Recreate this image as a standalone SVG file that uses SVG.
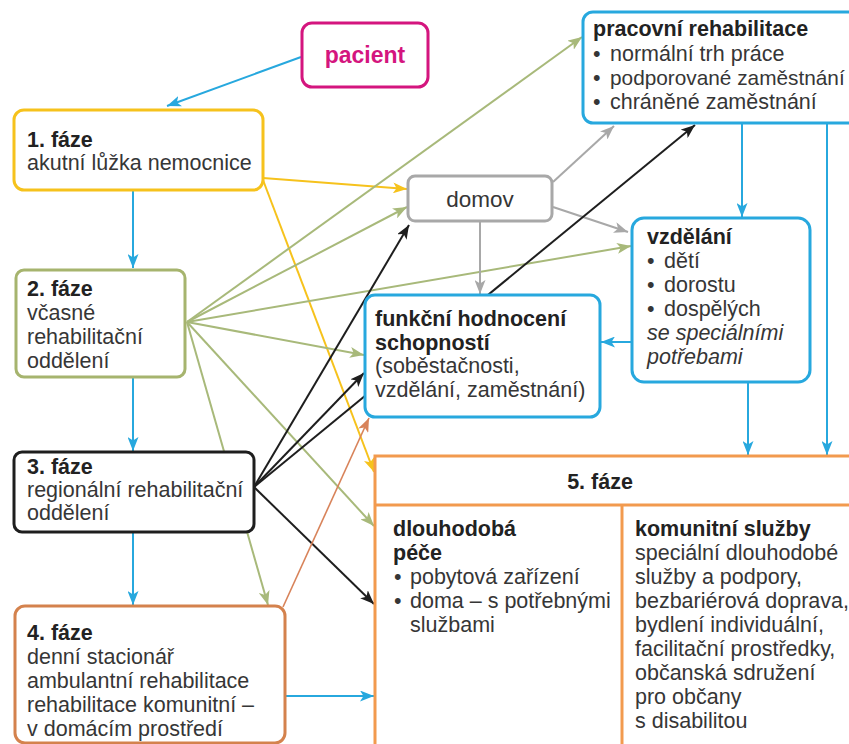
<svg xmlns="http://www.w3.org/2000/svg" width="849" height="744" viewBox="0 0 849 744">
  <style>
    text { font-family: "Liberation Sans", Arial, sans-serif; font-size: 21.5px; fill: #363636; }
    .b { font-weight: bold; fill: #222; }
    .i { font-style: italic; }
    .box { fill: #fff; stroke-width: 3; }
    .c { fill: none; stroke-width: 2; }
    .blue { stroke: #27a8de; }
    .yel { stroke: #f6c21c; }
    .grn { stroke: #a8b97a; }
    .gry { stroke: #a8a8a8; }
    .blk { stroke: #1e1e1e; }
    .org { stroke: #d8835a; stroke-width: 1.6; }
  </style>
  <defs>
    <marker id="ah-blue" viewBox="0 0 14 11" refX="14" refY="5.5" markerWidth="14" markerHeight="11" markerUnits="userSpaceOnUse" orient="auto">
      <path d="M0,0 L14,5.5 L0,11 L3.5,5.5 z" fill="#27a8de"/>
    </marker>
    <marker id="ah-yel" viewBox="0 0 14 11" refX="14" refY="5.5" markerWidth="14" markerHeight="11" markerUnits="userSpaceOnUse" orient="auto">
      <path d="M0,0 L14,5.5 L0,11 L3.5,5.5 z" fill="#f6c21c"/>
    </marker>
    <marker id="ah-grn" viewBox="0 0 14 11" refX="14" refY="5.5" markerWidth="14" markerHeight="11" markerUnits="userSpaceOnUse" orient="auto">
      <path d="M0,0 L14,5.5 L0,11 L3.5,5.5 z" fill="#a8b97a"/>
    </marker>
    <marker id="ah-gry" viewBox="0 0 14 11" refX="14" refY="5.5" markerWidth="14" markerHeight="11" markerUnits="userSpaceOnUse" orient="auto">
      <path d="M0,0 L14,5.5 L0,11 L3.5,5.5 z" fill="#a8a8a8"/>
    </marker>
    <marker id="ah-blk" viewBox="0 0 14 11" refX="14" refY="5.5" markerWidth="14" markerHeight="11" markerUnits="userSpaceOnUse" orient="auto">
      <path d="M0,0 L14,5.5 L0,11 L3.5,5.5 z" fill="#1e1e1e"/>
    </marker>
    <marker id="ah-org" viewBox="0 0 14 11" refX="14" refY="5.5" markerWidth="14" markerHeight="11" markerUnits="userSpaceOnUse" orient="auto">
      <path d="M0,0 L14,5.5 L0,11 L3.5,5.5 z" fill="#d8835a"/>
    </marker>
  </defs>

  <rect width="849" height="744" fill="#fff"/>

  <!-- connectors (drawn first so the boxes hide the parts that run behind them) -->
  <g id="connectors">
    <!-- main flow, blue -->
    <line class="c blue" x1="301" y1="57" x2="167" y2="106" marker-end="url(#ah-blue)"/>
    <line class="c blue" x1="133" y1="191" x2="133" y2="268" marker-end="url(#ah-blue)"/>
    <line class="c blue" x1="133" y1="377" x2="133" y2="451" marker-end="url(#ah-blue)"/>
    <line class="c blue" x1="133" y1="533" x2="133" y2="605" marker-end="url(#ah-blue)"/>
    <line class="c blue" x1="286" y1="696" x2="374" y2="696" marker-end="url(#ah-blue)"/>
    <line class="c blue" x1="742" y1="124" x2="742" y2="217" marker-end="url(#ah-blue)"/>
    <line class="c blue" x1="827" y1="124" x2="827" y2="455" marker-end="url(#ah-blue)"/>
    <line class="c blue" x1="748" y1="383" x2="748" y2="455" marker-end="url(#ah-blue)"/>
    <line class="c blue" x1="632" y1="342" x2="601" y2="342" marker-end="url(#ah-blue)"/>

    <!-- from phase 1, yellow -->
    <line class="c yel" x1="263" y1="178" x2="407" y2="189" marker-end="url(#ah-yel)"/>
    <line class="c yel" x1="263" y1="180" x2="374" y2="472" marker-end="url(#ah-yel)"/>

    <!-- from phase 2, green -->
    <line class="c grn" x1="187" y1="322" x2="582" y2="37" marker-end="url(#ah-grn)"/>
    <line class="c grn" x1="187" y1="322" x2="407" y2="207" marker-end="url(#ah-grn)"/>
    <line class="c grn" x1="187" y1="322" x2="631" y2="246" marker-end="url(#ah-grn)"/>
    <line class="c grn" x1="187" y1="322" x2="364" y2="355" marker-end="url(#ah-grn)"/>
    <line class="c grn" x1="187" y1="322" x2="374" y2="526" marker-end="url(#ah-grn)"/>
    <line class="c grn" x1="187" y1="322" x2="268" y2="605" marker-end="url(#ah-grn)"/>

    <!-- from home, grey -->
    <line class="c gry" x1="553" y1="182" x2="614" y2="126" marker-end="url(#ah-gry)"/>
    <line class="c gry" x1="553" y1="207" x2="628" y2="232" marker-end="url(#ah-gry)"/>
    <line class="c gry" x1="480" y1="222" x2="480" y2="294" marker-end="url(#ah-gry)"/>

    <!-- from phase 3, black -->
    <line class="c blk" x1="254" y1="487" x2="409" y2="225" marker-end="url(#ah-blk)"/>
    <line class="c blk" x1="254" y1="487" x2="364" y2="373" marker-end="url(#ah-blk)"/>
    <line class="c blk" x1="254" y1="487" x2="695" y2="125" marker-end="url(#ah-blk)"/>
    <line class="c blk" x1="254" y1="487" x2="374" y2="604" marker-end="url(#ah-blk)"/>

    <!-- from phase 4, orange -->
    <line class="c org" x1="283" y1="607" x2="369" y2="418" marker-end="url(#ah-org)"/>
  </g>

  <g id="pacient">
    <rect class="box" x="302" y="23" width="126" height="64" rx="10" stroke="#d4157e"/>
    <text x="365" y="63" text-anchor="middle" style="font-weight:bold;font-size:23px;fill:#d4157e">pacient</text>
  </g>

  <g id="faze1">
    <rect class="box" x="14" y="110" width="249" height="80" rx="10" stroke="#f6c21c"/>
    <text class="b" x="27" y="147">1. fáze</text>
    <text x="27" y="170">akutní lůžka nemocnice</text>
  </g>

  <g id="faze2">
    <rect class="box" x="16" y="270" width="169" height="107" rx="8" stroke="#a6b46e"/>
    <text class="b" x="27" y="296">2. fáze</text>
    <text x="27" y="320">včasné</text>
    <text x="27" y="344">rehabilitační</text>
    <text x="27" y="368">oddělení</text>
  </g>

  <g id="faze3">
    <rect class="box" x="14" y="452" width="240" height="80" rx="8" stroke="#1e1e1e"/>
    <text class="b" x="27" y="474">3. fáze</text>
    <text x="27" y="497">regionální rehabilitační</text>
    <text x="27" y="520">oddělení</text>
  </g>

  <g id="faze4">
    <rect class="box" x="15" y="606" width="270" height="137" rx="10" stroke="#d4824d"/>
    <text class="b" x="27" y="640">4. fáze</text>
    <text x="27" y="664">denní stacionář</text>
    <text x="27" y="688">ambulantní rehabilitace</text>
    <text x="27" y="712">rehabilitace komunitní –</text>
    <text x="27" y="736">v domácím prostředí</text>
  </g>

  <g id="domov">
    <rect class="box" x="408" y="176" width="144" height="45" rx="7" stroke="#a8a8a8"/>
    <text x="480" y="207" text-anchor="middle" style="font-size:22.5px">domov</text>
  </g>

  <g id="pracovni-rehabilitace">
    <rect class="box" x="583" y="12" width="275" height="111" rx="10" stroke="#27a8de"/>
    <text class="b" x="593" y="36">pracovní rehabilitace</text>
    <text x="593" y="61">•<tspan x="610">normální trh práce</tspan></text>
    <text x="593" y="85">•<tspan x="610" style="font-size:20.8px">podporované zaměstnání</tspan></text>
    <text x="593" y="109">•<tspan x="610">chráněné zaměstnání</tspan></text>
  </g>

  <g id="vzdelani">
    <rect class="box" x="632" y="218" width="178" height="164" rx="12" stroke="#27a8de"/>
    <text class="b" x="647" y="244">vzdělání</text>
    <text x="647" y="268">•<tspan x="664">dětí</tspan></text>
    <text x="647" y="292">•<tspan x="664">dorostu</tspan></text>
    <text x="647" y="316">•<tspan x="664">dospělých</tspan></text>
    <text class="i" x="647" y="340">se speciálními</text>
    <text class="i" x="647" y="364">potřebami</text>
  </g>

  <g id="funkcni-hodnoceni">
    <rect class="box" x="365" y="295" width="235" height="122" rx="10" stroke="#27a8de"/>
    <text class="b" x="375" y="326">funkční hodnocení</text>
    <text class="b" x="375" y="350">schopností</text>
    <text x="375" y="373">(soběstačnosti,</text>
    <text x="375" y="397">vzdělání, zaměstnání)</text>
  </g>

  <g id="faze5">
    <rect class="box" x="375" y="456" width="490" height="300" stroke="#f29a4e"/>
    <line x1="375" y1="505" x2="865" y2="505" stroke="#f29a4e" stroke-width="3"/>
    <line x1="622" y1="505" x2="622" y2="760" stroke="#f29a4e" stroke-width="3"/>
    <text class="b" x="600" y="489" text-anchor="middle">5. fáze</text>

    <text class="b" x="393" y="536">dlouhodobá</text>
    <text class="b" x="393" y="560">péče</text>
    <text x="394" y="584">•<tspan x="410">pobytová zařízení</tspan></text>
    <text x="394" y="608">•<tspan x="410">doma – s potřebnými</tspan></text>
    <text x="410" y="632">službami</text>

    <text class="b" x="635" y="536">komunitní služby</text>
    <text x="635" y="560">speciální dlouhodobé</text>
    <text x="635" y="584">služby a podpory,</text>
    <text x="635" y="608">bezbariérová doprava,</text>
    <text x="635" y="632">bydlení individuální,</text>
    <text x="635" y="656">facilitační prostředky,</text>
    <text x="635" y="680">občanská sdružení</text>
    <text x="635" y="704">pro občany</text>
    <text x="635" y="728">s disabilitou</text>
  </g>
</svg>
